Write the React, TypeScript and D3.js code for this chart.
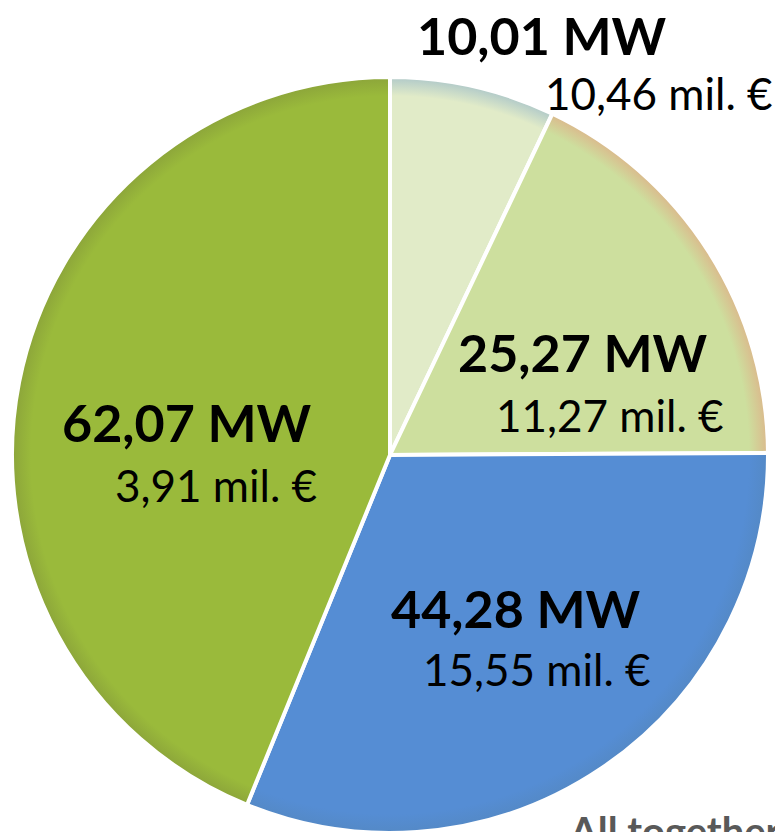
import * as React from "react";
import * as d3 from "d3";

// power per group (MW) and investment (mil. €), clockwise from 12 o'clock
const powerMW = [10.01, 25.27, 44.28, 62.07];
const costMil = [10.46, 11.27, 15.55, 3.91];
const fills = ["#e1ebc8", "#cddf9e", "#558dd4", "#9aba3b"];
const edges = ["#b0c9c9", "#dbb98c", "#5489c6", "#8ca53a"];
// label anchor (left x, baseline of the MW line) — annotation layout only
const labelPos: [number, number][] = [[417, 55], [458, 372], [391, 628], [62, 442]];
const subOffset = [128, 38, 32, 53];
const subGap = [55, 60, 58, 60];

const fmt = (v: number) => d3.format(".2f")(v).replace(".", ",");

export default function App() {
  const width = 775, height = 832;
  const cx = 390, cy = 455, r = 378;

  const pie = d3.pie<number>().sort(null).value(d => d);
  const arcs = pie(powerMW);
  const arc = d3.arc<d3.PieArcDatum<number>>().innerRadius(0).outerRadius(r);

  return (
    <svg width={width} height={height}
      style={{position: "absolute", left: 0, top: 0, background: "#fff"}}
      fontFamily="Lato, 'Open Sans', sans-serif">
      <defs>
        {fills.map((f, i) => (
          <radialGradient key={i} id={"g" + i} gradientUnits="userSpaceOnUse" cx={0} cy={0} r={r}>
            <stop offset="0%" stopColor={f}/>
            <stop offset="95%" stopColor={f}/>
            <stop offset="100%" stopColor={edges[i]}/>
          </radialGradient>
        ))}
      </defs>
      <g transform={`translate(${cx},${cy})`}>
        {arcs.map((a, i) => (
          <path key={i} d={arc(a) || ""} fill={`url(#g${i})`}
            stroke="#fff" strokeWidth={4} strokeLinejoin="round"/>
        ))}
      </g>
      {arcs.map((a, i) => (
        <g key={"l" + i}>
          <text x={labelPos[i][0]} y={labelPos[i][1]} fontWeight={700} fontSize={52} fill="#000">
            {fmt(powerMW[i])} MW
          </text>
          <text x={labelPos[i][0] + subOffset[i]} y={labelPos[i][1] + subGap[i]} fontSize={44} fill="#000">
            {fmt(costMil[i])} mil. €
          </text>
        </g>
      ))}
      <text x={570} y={846} fontWeight={700} fontSize={40} fill="#595959">All together</text>
    </svg>
  );
}
